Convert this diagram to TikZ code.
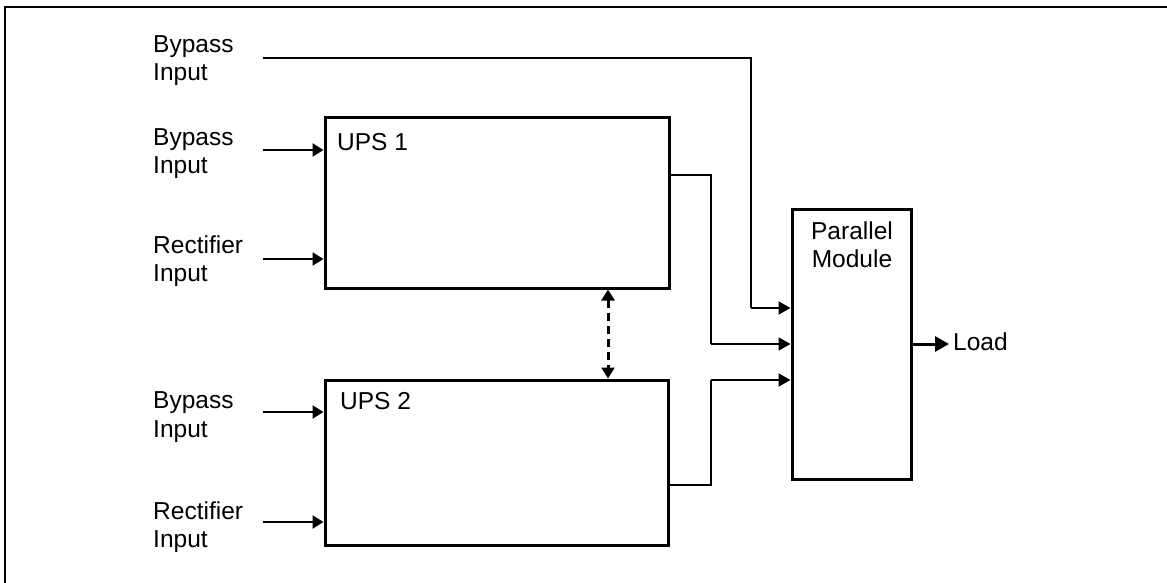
\documentclass[tikz,border=0pt]{standalone}
\usepackage{fontspec}
\setmainfont{Liberation Sans}
\usetikzlibrary{arrows.meta}
\begin{document}
\begin{tikzpicture}[x=1pt,y=-1pt,
  blk/.style={draw,line width=3pt,inner sep=0pt,rectangle},
  lbl/.style={inner sep=0pt,align=left,anchor=north west,font=\fontsize{24.5}{28.3}\selectfont},
  txt/.style={inner sep=0pt,font=\fontsize{24.5}{28.3}\selectfont},
  conn/.style={line width=2pt},
  arr/.style={line width=2.4pt,-{Triangle[length=11pt,width=13pt]}},
  parr/.style={line width=2pt,-{Triangle[length=12pt,width=13pt]}},
  oarr/.style={line width=3pt,-{Triangle[length=14pt,width=15pt]}},
  link/.style={line width=3pt,dash pattern=on 8pt off 5pt,{Triangle[length=11pt,width=13pt]}-{Triangle[length=11pt,width=13pt]}}
]
\useasboundingbox (0,0) rectangle (1167,583);
% frame
\draw[line width=2.5pt] (5,583) -- (5,7) -- (1167,7);
% blocks
\node[blk,minimum width=344pt,minimum height=170pt] (ups1) at (497,203) {};
\node[blk,minimum width=343pt,minimum height=165pt] (ups2) at (496.5,462.5) {};
\node[blk,minimum width=119pt,minimum height=270pt] (pm) at (851.5,344) {};
\node[txt,anchor=base west] (ups1t) at (337,150.7) {UPS 1};
\node[txt,anchor=base west] (ups2t) at (340,409.3) {UPS 2};
\node[txt,anchor=north,align=center] (pmt) at (852,221.5) {Parallel\\Module};
% labels
\node[lbl] (bp0) at (153,35.5) {Bypass\\Input};
\node[lbl] (bp1) at (153,128.5) {Bypass\\Input};
\node[lbl] (rc1) at (153,235.5) {Rectifier\\Input};
\node[lbl] (bp2) at (153,391.7) {Bypass\\Input};
\node[lbl] (rc2) at (153,501.5) {Rectifier\\Input};
\node[txt,anchor=base west] (load) at (953,350.7) {Load};
% free ends
\coordinate (s0) at (263,58);
\coordinate (s1) at (263,150);
\coordinate (s2) at (263,259);
\coordinate (s3) at (263,412);
\coordinate (s4) at (263,522);
\coordinate (k1) at (751,308);
\coordinate (k2) at (711,344);
\coordinate (k3) at (711,380);
\coordinate (o1) at (0,175);
\coordinate (o2) at (0,485);
\coordinate (d) at (608,0);
\coordinate (lt) at (949,0);
% inputs
\draw[arr] (s1) -- (s1 -| ups1.west);
\draw[arr] (s2) -- (s2 -| ups1.west);
\draw[arr] (s3) -- (s3 -| ups2.west);
\draw[arr] (s4) -- (s4 -| ups2.west);
% to parallel module
\draw[conn] (s0) -| (k1);
\draw[parr] (k1) -- (k1 -| pm.west);
\draw[conn] (ups1.east |- o1) -| (k2);
\draw[parr] (k2) -- (k2 -| pm.west);
\draw[conn] (ups2.east |- o2) -| (k3);
\draw[parr] (k3) -- (k3 -| pm.west);
% output
\draw[oarr] (pm.east) -- (lt |- pm.east);
% link between UPS
\draw[link] (d |- ups1.south) -- (d |- ups2.north);
\end{tikzpicture}
\end{document}
